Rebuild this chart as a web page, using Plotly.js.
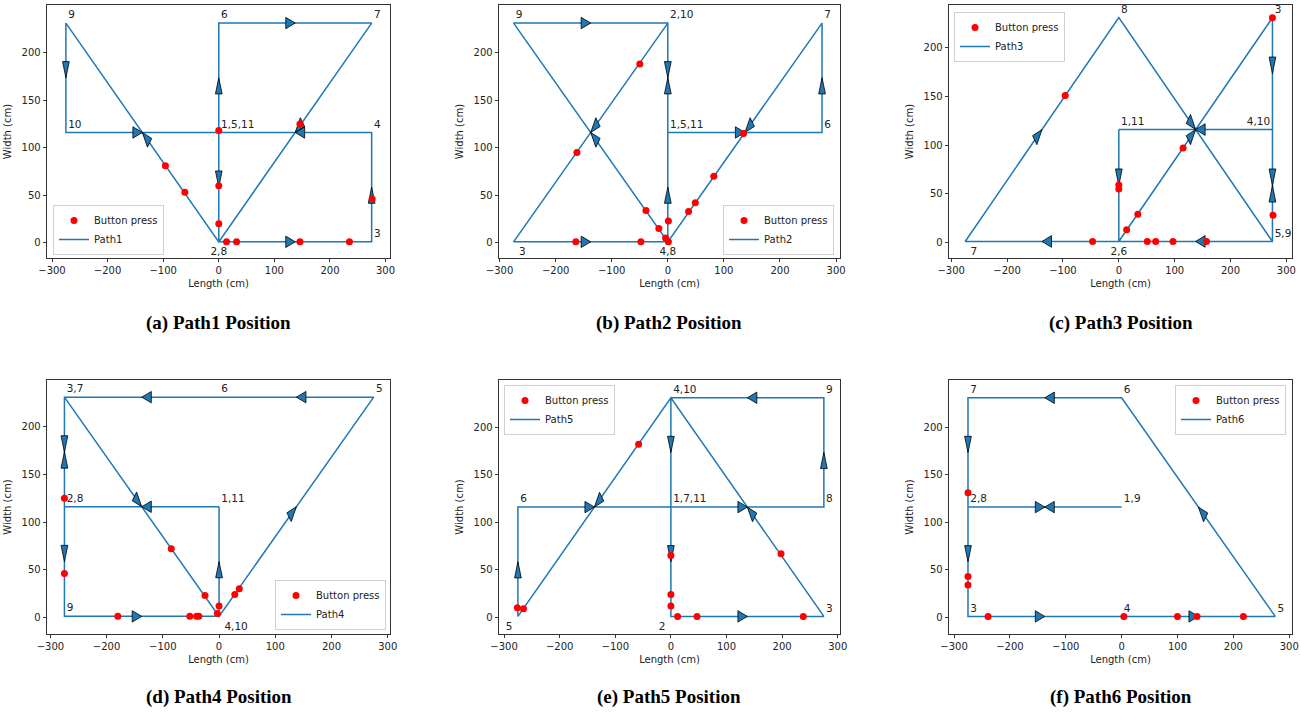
<!DOCTYPE html>
<html><head><meta charset="utf-8">
<script src="https://cdn.plot.ly/plotly-3.0.1.min.js"></script>
<style>body{margin:0;background:#fff}#chart{width:1301px;height:715px}</style>
</head><body><div id="chart"></div>
<script>
// ---- Path waypoints (visited in order 1..N) ----
const path1X = [0, 0, 275, 275, 0, 0, 275, 0, -275, -275, 0];
const path1Y = [116, 1, 1, 116, 116, 231, 231, 1, 231, 116, 116];
const path2X = [0, 0, -275, 0, 0, 275, 275, 0, -275, 0, 0];
const path2Y = [116, 231, 1, 1, 116, 116, 231, 1, 231, 231, 116];
const path3X = [0, 0, 275, 275, 275, 0, -275, 0, 275, 275, 0];
const path3Y = [116, 1, 231, 116, 1, 1, 1, 231, 1, 116, 116];
const path4X = [0, -275, -275, 0, 275, 0, -275, -275, -275, 0, 0];
const path4Y = [116, 116, 231, 1, 231, 231, 231, 116, 1, 1, 116];
const path5X = [0, 0, 275, 0, -275, -275, 0, 275, 275, 0, 0];
const path5Y = [116, 1, 1, 231, 1, 116, 116, 116, 231, 231, 116];
const path6X = [0, -275, -275, 0, 275, 0, -275, -275, 0];
const path6Y = [116, 116, 1, 1, 1, 231, 231, 116, 116];

// ---- Button press positions ----
const press1X = [0, 146, -96, -61, 0, 0, 14, 32, 146, 235, 276];
const press1Y = [118, 125, 81, 53, 60, 20, 1, 1, 1, 1, 46];
const press2X = [-50, -162, -39, -16, -4, 1, 1, 37, 49, 82, 135, -164, -48];
const press2Y = [188, 95, 34, 15, 5, 1, 23, 33, 42, 70, 115, 1, 1];
const press3X = [275, -96, 115, 34, 14, 0, 0, -47, 51, 66, 97, 157, 276];
const press3Y = [231, 151, 97, 29, 13, 59, 55, 1, 1, 1, 1, 1, 28];
const press4X = [-275, -275, -85, -25, 0, -3, 28, 36, -180, -52, -40, -36];
const press4Y = [125, 46, 72, 23, 12, 4, 24, 30, 1, 1, 1, 1];
const press5X = [-58, 0, 0, 0, 12, 47, 238, 198, -276, -265];
const press5Y = [182, 65, 24, 12, 1, 1, 1, 67, 10, 9];
const press6X = [-275, -275, -275, -239, 4, 100, 135, 218];
const press6Y = [131, 43, 34, 1, 1, 1, 1, 1];

// ---- Texts ----
const pathNames = ['Path1', 'Path2', 'Path3', 'Path4', 'Path5', 'Path6'];
const captions = ['(a) Path1 Position', '(b) Path2 Position', '(c) Path3 Position',
                  '(d) Path4 Position', '(e) Path5 Position', '(f) Path6 Position'];
const pressName = 'Button press';
const xTitle = 'Length (cm)';
const yTitle = 'Width (cm)';
const xTicks = [-300, -200, -100, 0, 100, 200, 300];
const yTicks = [0, 50, 100, 150, 200];

// label placement (style), in order of first visit of each distinct waypoint
const labelPos = [
  ['top right', 'bottom center', 'top right', 'top right', 'top right', 'top right', 'top right', 'top right'],
  ['top right', 'top right', 'bottom right', 'bottom center', 'top right', 'top right', 'top right'],
  ['top right', 'bottom center', 'top right', 'top left', 'top right', 'bottom right', 'top right'],
  ['top right', 'top right', 'top right', 'bottom right', 'top right', 'top right', 'top right'],
  ['top right', 'bottom left', 'top right', 'top right', 'bottom left', 'top right', 'top right', 'top right'],
  ['top right', 'top right', 'top right', 'top right', 'top right', 'top right', 'top right']
];

const pathsX = [path1X, path2X, path3X, path4X, path5X, path6X];
const pathsY = [path1Y, path2Y, path3Y, path4Y, path5Y, path6Y];
const pressX = [press1X, press2X, press3X, press4X, press5X, press6X];
const pressY = [press1Y, press2Y, press3Y, press4Y, press5Y, press6Y];

// ---- layout geometry (style) ----
const W = 1301, H = 715;
const colPx = [[47, 390], [499, 840], [949, 1292]];
const rowPx = [[5, 258], [380, 634]];
const xRanges = [[-309, 308], [-301, 307], [-304, 310], [-306, 304], [-309, 304], [-309, 305]];
const yRanges = [[-16, 250], [-16, 250], [-16, 244], [-17.5, 249], [-17.5, 249.7], [-17.5, 249.7]];
const legendBoxes = [
  {x: 53 / W, y: 1 - 255 / H, xanchor: 'left', yanchor: 'bottom'},
  {x: 834 / W, y: 1 - 255 / H, xanchor: 'right', yanchor: 'bottom'},
  {x: 954 / W, y: 1 - 12 / H, xanchor: 'left', yanchor: 'top'},
  {x: 386 / W, y: 1 - 630 / H, xanchor: 'right', yanchor: 'bottom'},
  {x: 504 / W, y: 1 - 385 / H, xanchor: 'left', yanchor: 'top'},
  {x: 1286 / W, y: 1 - 385 / H, xanchor: 'right', yanchor: 'top'}
];
const HEAD_LEN = 17, HEAD_W = 12;   // arrow head size in data units
const BLUE = '#1f77b4';
const tickFont = {family: 'DejaVu Sans', size: 10, color: '#222'};

function arrowPolys(px, py) {
  const ax = [], ay = [];
  for (let i = 0; i < px.length - 1; i++) {
    const dx = px[i + 1] - px[i], dy = py[i + 1] - py[i];
    const len = Math.hypot(dx, dy);
    const ux = dx / len, uy = dy / len;
    const mx = (px[i] + px[i + 1]) / 2, my = (py[i] + py[i + 1]) / 2;
    const bx = mx - HEAD_LEN * ux, by = my - HEAD_LEN * uy;
    const nx = -uy * HEAD_W / 2, ny = ux * HEAD_W / 2;
    ax.push(mx, bx + nx, bx - nx, mx, null);
    ay.push(my, by + ny, by - ny, my, null);
  }
  return [ax, ay];
}

function nodeLabels(px, py) {
  const keys = [], lx = [], ly = [], txt = [];
  px.forEach((x, i) => {
    const k = x + ',' + py[i];
    let j = keys.indexOf(k);
    if (j < 0) { keys.push(k); lx.push(x); ly.push(py[i]); txt.push(String(i + 1)); }
    else txt[j] += ',' + (i + 1);
  });
  return {lx, ly, txt};
}

const data = [];
const layout = {
  width: W, height: H, margin: {l: 0, r: 0, t: 0, b: 0},
  paper_bgcolor: '#fff', plot_bgcolor: '#fff', showlegend: true,
  font: {family: 'DejaVu Sans', size: 10, color: '#222'},
  annotations: []
};

for (let p = 0; p < 6; p++) {
  const k = p + 1;
  const xa = 'x' + (k === 1 ? '' : k), ya = 'y' + (k === 1 ? '' : k);
  const lg = 'legend' + (k === 1 ? '' : k);
  const col = colPx[p % 3], row = rowPx[Math.floor(p / 3)];

  data.push({x: pathsX[p], y: pathsY[p], mode: 'lines', name: pathNames[p],
    line: {color: BLUE, width: 1.5}, xaxis: xa, yaxis: ya, legend: lg, legendrank: 2, hoverinfo: 'skip'});
  const [arX, arY] = arrowPolys(pathsX[p], pathsY[p]);
  data.push({x: arX, y: arY, mode: 'lines', fill: 'toself', fillcolor: BLUE,
    line: {color: '#000', width: 0.8}, xaxis: xa, yaxis: ya, showlegend: false, hoverinfo: 'skip'});
  data.push({x: pressX[p], y: pressY[p], mode: 'markers', name: pressName,
    marker: {color: 'red', size: 7}, xaxis: xa, yaxis: ya, legend: lg, legendrank: 1, hoverinfo: 'skip'});
  const nl = nodeLabels(pathsX[p], pathsY[p]);
  const padSizes = labelPos[p].map(s => s.startsWith('bottom') ? 7 : 2);
  data.push({x: nl.lx, y: nl.ly, text: nl.txt, mode: 'markers+text', textposition: labelPos[p],
    marker: {size: padSizes, opacity: 0},
    textfont: {family: 'DejaVu Sans', size: 10.5, color: '#222'}, cliponaxis: false,
    xaxis: xa, yaxis: ya, showlegend: false, hoverinfo: 'skip'});

  const axBase = {ticks: 'outside', ticklen: 3.5, tickwidth: 0.8, tickcolor: '#000',
    showline: true, linecolor: '#000', linewidth: 0.8, mirror: true,
    showgrid: false, zeroline: false, tickfont: tickFont, fixedrange: true, tickmode: 'array'};
  layout['xaxis' + (k === 1 ? '' : k)] = Object.assign({}, axBase, {
    domain: [col[0] / W, col[1] / W], anchor: ya, range: xRanges[p], tickvals: xTicks,
    title: {text: xTitle, font: tickFont, standoff: 4}});
  layout['yaxis' + (k === 1 ? '' : k)] = Object.assign({}, axBase, {
    domain: [1 - row[1] / H, 1 - row[0] / H], anchor: xa, range: yRanges[p], tickvals: yTicks,
    title: {text: yTitle, font: tickFont, standoff: 8}});
  layout[lg] = Object.assign({}, legendBoxes[p], {
    bgcolor: 'rgba(255,255,255,0.8)', bordercolor: '#d0d0d0', borderwidth: 1,
    font: {family: 'DejaVu Sans', size: 10, color: '#222'}, itemwidth: 30, tracegroupgap: 0});

  layout.annotations.push({text: '<b>' + captions[p] + '</b>', xref: 'paper', yref: 'paper',
    x: (col[0] + col[1]) / 2 / W, y: 1 - (p < 3 ? 323 : 697) / H, xanchor: 'center', yanchor: 'middle',
    showarrow: false, font: {family: 'Liberation Serif', size: 19, color: '#000'}});
}

Plotly.newPlot('chart', data, layout, {staticPlot: true});
</script>
</body></html>
